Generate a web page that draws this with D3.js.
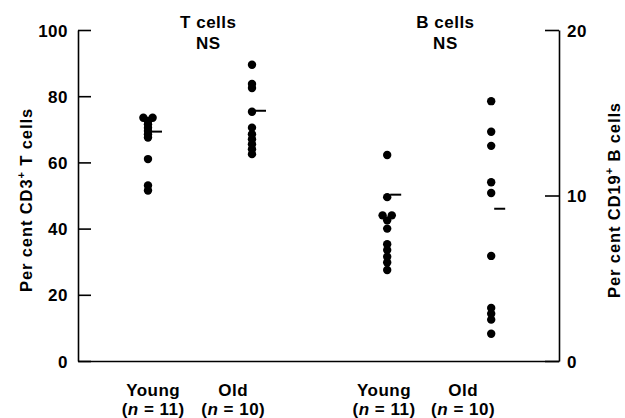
<!DOCTYPE html>
<html>
<head>
<meta charset="utf-8">
<script src="https://cdn.jsdelivr.net/npm/d3@7"></script>
<style>
  body { margin: 0; background: #fff; }
  svg { display: block; font-family: "Liberation Sans", Arial, Helvetica, sans-serif; }
</style>
</head>
<body>
<svg id="chart" width="625" height="418"></svg>
<script>
// groups (slot = position along x, groups spaced in slot units)
const groups = ['T young', 'T old', 'B young', 'B old'];
const groupSlots = [0, 1, 2.3, 3.3];
const groupAxis = ['left', 'left', 'right', 'right'];

// values (T: per cent CD3+, B: per cent CD19+)
const tYoung = [73.5, 73.5, 72.5, 71.5, 70.5, 69.5, 68.5, 67.5, 61, 53, 51.5];
const tOld = [89.5, 83.7, 82.5, 75.3, 70.5, 68.5, 67, 65.5, 64, 62.5];
const bYoung = [12.45, 9.9, 8.8, 8.8, 8.5, 8.0, 7.05, 6.7, 6.3, 5.95, 5.5];
const bOld = [15.7, 13.85, 13.0, 10.8, 10.15, 6.35, 3.2, 2.85, 2.5, 1.65];
const groupMarks = [69.3, 75.6, 10.05, 9.2];

// label texts
const leftTicks = [0, 20, 40, 60, 80, 100];
const rightTicks = [0, 10, 20];
const titles = [['T cells', 'NS'], ['B cells', 'NS']];
const titleSlots = [0.58, 2.86];
const catLabels = [['Young', '(n = 11)'], ['Old', '(n = 10)'], ['Young', '(n = 11)'], ['Old', '(n = 10)']];
const catLabelSlots = [0.05, 0.82, 2.27, 3.03];

const series = [tYoung, tOld, bYoung, bOld];

const svg = d3.select('#chart');
const W = 625, H = 418;
const m = { left: 78, right: 559, top: 30, bottom: 361 };
const r = 4.2;
const font = 17;

svg.append('rect').attr('width', W).attr('height', H).attr('fill', '#fff');

const x = d3.scaleLinear().domain([-0.673, 3.952]).range([m.left, m.right]);
const yL = d3.scaleLinear().domain([0, 100]).range([m.bottom, m.top]);
const yR = d3.scaleLinear().domain([0, 20]).range([m.bottom, m.top]);

// axes
const gL = svg.append('g').attr('transform', `translate(${m.left},0)`)
  .call(d3.axisLeft(yL).tickValues(leftTicks).tickSizeInner(-13).tickSizeOuter(0).tickPadding(10));
const gR = svg.append('g').attr('transform', `translate(${m.right},0)`)
  .call(d3.axisRight(yR).tickValues(rightTicks).tickSizeInner(-14).tickSizeOuter(0).tickPadding(8));
const gB = svg.append('g').attr('transform', `translate(0,${m.bottom})`)
  .call(d3.axisBottom(x).tickValues([]).tickSizeOuter(0));

[gL, gR, gB].forEach(g => {
  g.select('.domain').attr('stroke', '#000').attr('stroke-width', 1.6);
  g.selectAll('.tick line').attr('stroke', '#000').attr('stroke-width', 1.6);
  g.selectAll('.tick text')
    .attr('fill', '#000')
    .style('font-size', font + 'px')
    .style('font-weight', 'bold')
    .style('letter-spacing', '0.5px')
    .attr('dy', '0.36em');
});

// dots
series.forEach((vals, gi) => {
  const y = groupAxis[gi] === 'left' ? yL : yR;
  const cx0 = x(groupSlots[gi]);
  // side-by-side placement for equal values
  const counts = d3.rollup(vals, v => v.length, d => d);
  const seen = new Map();
  const pts = vals.map(v => {
    const k = counts.get(v);
    const i = seen.get(v) || 0;
    seen.set(v, i + 1);
    return { v, dx: (i - (k - 1) / 2) * r * 2.2 };
  });
  svg.append('g').selectAll('circle')
    .data(pts)
    .join('circle')
    .attr('cx', d => cx0 + d.dx)
    .attr('cy', d => y(d.v))
    .attr('r', r)
    .attr('fill', '#000');

  svg.append('line')
    .attr('x1', cx0 + 3)
    .attr('x2', cx0 + 14)
    .attr('y1', y(groupMarks[gi]))
    .attr('y2', y(groupMarks[gi]))
    .attr('stroke', '#000')
    .attr('stroke-width', 2);
});

// titles
titles.forEach((t, i) => {
  const tx = svg.append('text')
    .attr('x', x(titleSlots[i]))
    .attr('text-anchor', 'middle')
    .style('font-size', font + 'px')
    .style('font-weight', 'bold')
    .style('letter-spacing', '0.5px');
  tx.append('tspan').attr('x', x(titleSlots[i])).attr('y', 28).text(t[0]);
  tx.append('tspan').attr('x', x(titleSlots[i])).attr('y', 49).text(t[1]);
});

// category labels
catLabels.forEach((l, i) => {
  const cx = x(catLabelSlots[i]);
  svg.append('text')
    .attr('x', cx).attr('y', 396)
    .attr('text-anchor', 'middle')
    .style('font-size', font + 'px')
    .style('font-weight', 'bold')
    .style('letter-spacing', '0.5px')
    .text(l[0]);
  const t2 = svg.append('text')
    .attr('x', cx).attr('y', 415)
    .attr('text-anchor', 'middle')
    .style('font-size', font + 'px')
    .style('font-weight', 'bold')
    .style('letter-spacing', '0.5px');
  const parts = l[1].match(/^\((n)(.*)$/);
  t2.append('tspan').text('(');
  t2.append('tspan').style('font-style', 'italic').text(parts[1]);
  t2.append('tspan').text(parts[2]);
});

// axis titles
function axisTitle(cx, main, tail) {
  const t = svg.append('text')
    .attr('transform', `translate(${cx},200) rotate(-90)`)
    .attr('text-anchor', 'middle')
    .style('font-size', '16.5px')
    .style('font-weight', 'bold')
    .style('letter-spacing', '0.9px')
    .attr('fill', '#000');
  t.append('tspan').text(main);
  t.append('tspan').attr('dy', -7).style('font-size', '11px').text('+');
  t.append('tspan').attr('dy', 7).text(tail);
}
axisTitle(32, 'Per cent CD3', ' T cells');
axisTitle(620, 'Per cent CD19', ' B cells');
</script>
</body>
</html>
